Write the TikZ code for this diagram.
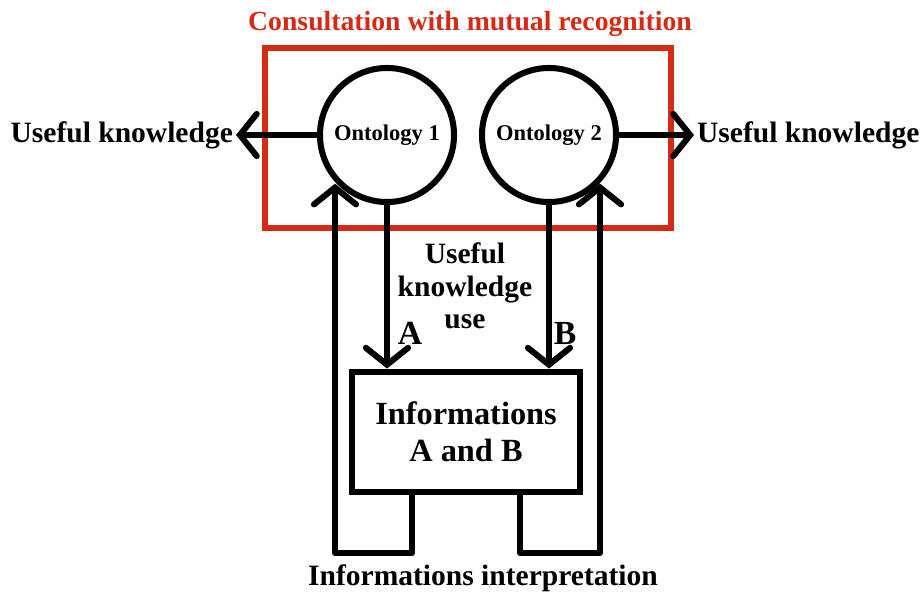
\documentclass[tikz,border=0pt]{standalone}
\usepackage{fontspec}
\setmainfont{Liberation Serif}
\usetikzlibrary{arrows.meta,calc,positioning}
\definecolor{consCol}{HTML}{D52B16}
\tikzset{
  ontol/.style={circle, draw, fill=white, line width=4.3pt, minimum size=3.35cm, inner sep=0pt,
        font=\fontsize{16}{18}\selectfont\bfseries},
  infobox/.style={draw, fill=white, line width=4.3pt, minimum width=5.7cm, minimum height=3.02cm,
        align=center, font=\fontsize{23}{26.5}\selectfont\bfseries},
  consframe/.style={draw=consCol, line width=4.3pt, minimum width=10.15cm, minimum height=4.5cm},
  lbl/.style={font=\fontsize{21}{23}\selectfont\bfseries, align=center, inner sep=2pt},
  flow/.style={line width=4.3pt, line join=round,
        -{Straight Barb[length=12pt, width=30pt, line cap=round]}},
}

\begin{document}
\begin{tikzpicture}[x=0.025cm, y=-0.025cm]
  \useasboundingbox (0,0) rectangle (920,592);
  % frame and title
  \node[consframe] (cons) at (468,138) {};
  \node[lbl, text=consCol, font=\fontsize{19.7}{22}\selectfont\bfseries] (title) at (470,24)
    {Consultation with mutual recognition};
  % ontologies and informations
  \node[ontol] (ont1) at (387,135) {Ontology 1};
  \node[ontol] (ont2) at (549,135) {Ontology 2};
  \node[infobox] (info) at (466,432) {Informations\\A and B};
  \node[lbl, anchor=east] (useL) at (236,135) {Useful knowledge};
  \node[lbl, anchor=west] (useR) at (694,135) {Useful knowledge};
  \node[lbl, font=\fontsize{21}{23}\selectfont\bfseries] (use) at (465,286) {Useful\\knowledge\\use};
  \node[lbl, font=\fontsize{24}{26}\selectfont\bfseries] (lA) at (410,333) {A};
  \node[lbl, font=\fontsize{24}{26}\selectfont\bfseries] (lB) at (565,333) {B};
  \node[lbl] (interp) at (483,578) {Informations interpretation};
  \coordinate (loopL) at (335,553);
  \coordinate (loopR) at (600,553);
  % connectors
  \draw[flow] (ont1.west) -- (useL.east);
  \draw[flow] (ont2.east) -- (useR.west);
  \draw[flow] (ont1.south) -- (ont1.south |- info.north);
  \draw[flow] (ont2.south) -- (ont2.south |- info.north);
  \draw[flow] ([xshift=-1.35cm]info.south) |- (loopL) -- (loopL |- ont1.224);
  \draw[flow] ([xshift=1.35cm]info.south) |- (loopR) -- (loopR |- ont2.316);
\end{tikzpicture}
\end{document}
